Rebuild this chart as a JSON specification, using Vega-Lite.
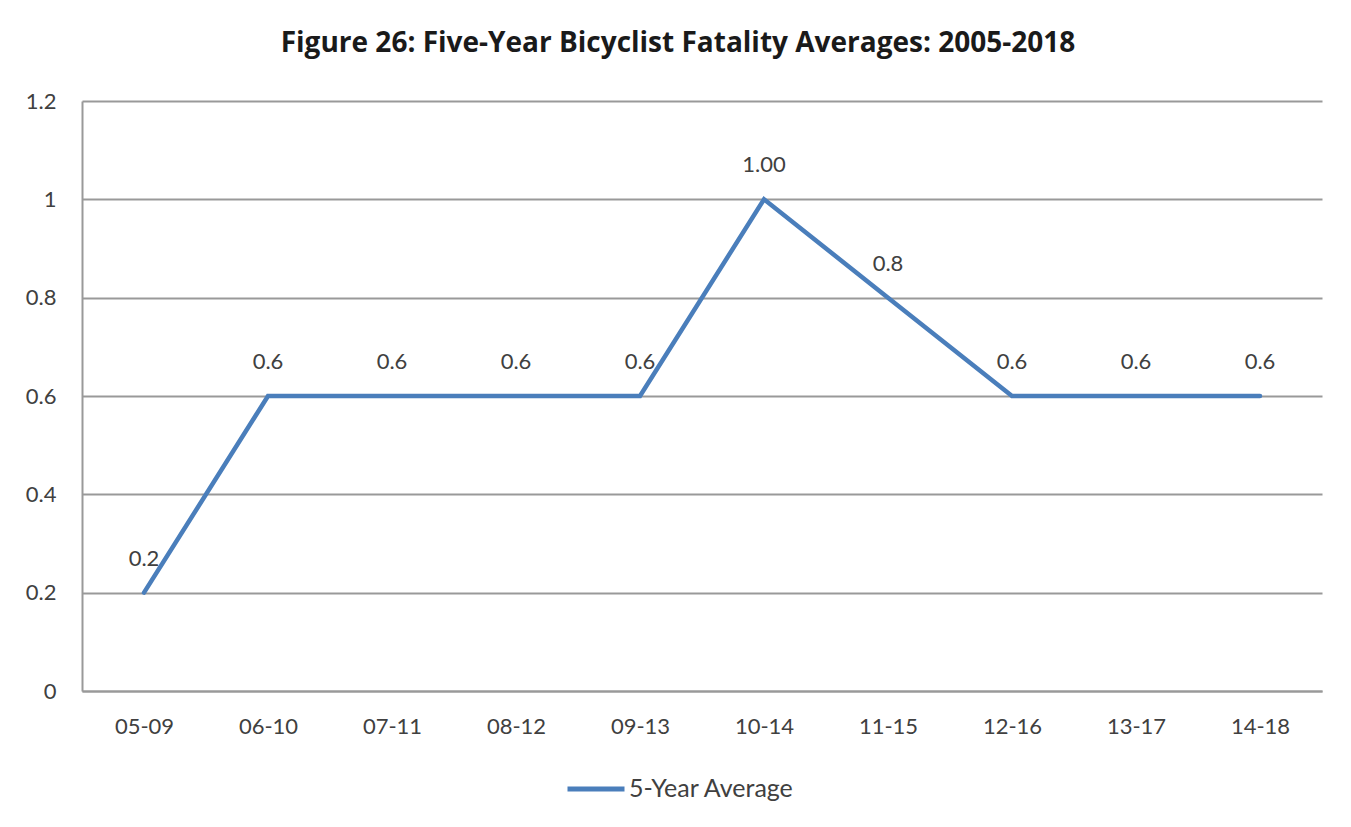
{
  "$schema": "https://vega.github.io/schema/vega-lite/v6.json",
  "width": 1240,
  "height": 590,
  "autosize": "none",
  "padding": {"left": 82, "top": 101, "right": 29, "bottom": 136},
  "background": "white",
  "title": {
    "text": "Figure 26: Five-Year Bicyclist Fatality Averages: 2005-2018",
    "font": "Open Sans",
    "fontSize": 28,
    "fontWeight": "bold",
    "color": "#1a1a1a",
    "anchor": "middle",
    "dx": -24,
    "offset": 18,
    "baseline": "middle"
  },
  "data": {
    "values": [
      {"period": "05-09", "avg": 0.2, "label": "0.2", "series": "5-Year Average"},
      {"period": "06-10", "avg": 0.6, "label": "0.6", "series": "5-Year Average"},
      {"period": "07-11", "avg": 0.6, "label": "0.6", "series": "5-Year Average"},
      {"period": "08-12", "avg": 0.6, "label": "0.6", "series": "5-Year Average"},
      {"period": "09-13", "avg": 0.6, "label": "0.6", "series": "5-Year Average"},
      {"period": "10-14", "avg": 1.0, "label": "1.00", "series": "5-Year Average"},
      {"period": "11-15", "avg": 0.8, "label": "0.8", "series": "5-Year Average"},
      {"period": "12-16", "avg": 0.6, "label": "0.6", "series": "5-Year Average"},
      {"period": "13-17", "avg": 0.6, "label": "0.6", "series": "5-Year Average"},
      {"period": "14-18", "avg": 0.6, "label": "0.6", "series": "5-Year Average"}
    ]
  },
  "encoding": {
    "x": {
      "field": "period",
      "type": "ordinal",
      "sort": null,
      "scale": {"type": "point", "padding": 0.5},
      "axis": {
        "title": null,
        "labelAngle": 0,
        "labelFont": "Lato",
        "labelFontSize": 22,
        "labelColor": "#404040",
        "labelPadding": 25,
        "ticks": false,
        "domainColor": "#999999",
        "domainWidth": 2,
        "grid": false
      }
    },
    "y": {
      "field": "avg",
      "type": "quantitative",
      "scale": {"domain": [0, 1.2], "nice": false},
      "axis": {
        "title": null,
        "values": [0, 0.2, 0.4, 0.6, 0.8, 1, 1.2],
        "format": "~g",
        "labelFont": "Lato",
        "labelFontSize": 22,
        "labelColor": "#404040",
        "labelPadding": 26,
        "ticks": false,
        "domainColor": "#999999",
        "domainWidth": 2,
        "grid": true,
        "gridColor": "#999999",
        "gridWidth": 2
      }
    }
  },
  "layer": [
    {
      "mark": {"type": "line", "strokeWidth": 4.5, "strokeCap": "round", "strokeJoin": "miter"},
      "encoding": {
        "color": {
          "field": "series",
          "type": "nominal",
          "scale": {"range": ["#4a7ebb"]},
          "legend": {
            "title": null,
            "orient": "none",
            "legendX": 483,
            "legendY": 657,
            "symbolType": "stroke",
            "symbolStrokeWidth": 5,
            "symbolSize": 3249,
            "labelFont": "Lato",
            "labelFontSize": 25,
            "labelLimit": 400,
            "labelColor": "#404040",
            "labelOffset": 2
          }
        }
      }
    },
    {
      "mark": {"type": "text", "dy": -34, "font": "Lato", "fontSize": 22, "color": "#404040"},
      "encoding": {"text": {"field": "label"}}
    }
  ],
  "config": {"view": {"stroke": null}}
}
